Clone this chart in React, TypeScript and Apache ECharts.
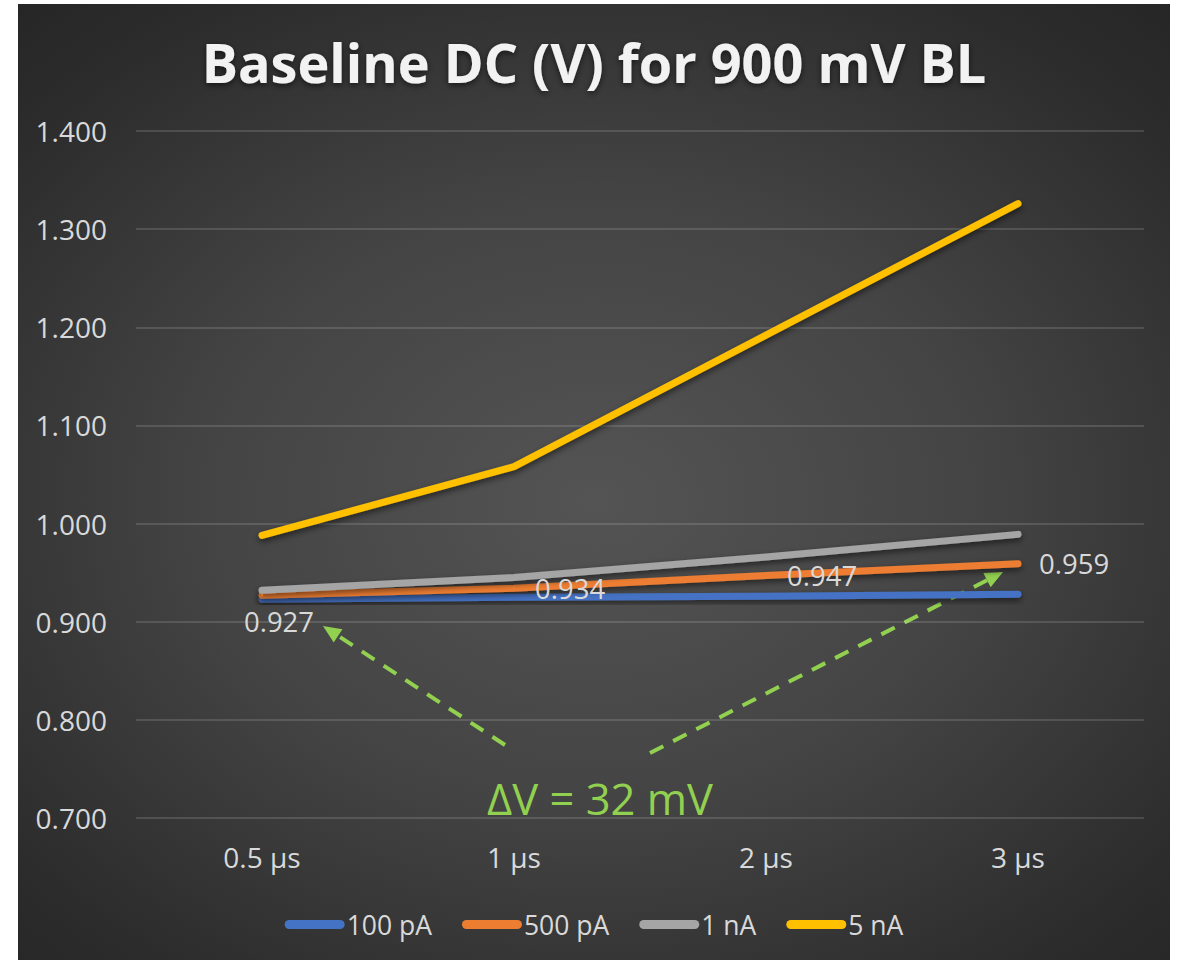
import React, { useEffect, useRef } from "react";
import * as echarts from "echarts";

// Pulse widths along the x axis
const categories = ["0.5 µs", "1 µs", "2 µs", "3 µs"];

// Baseline DC (V) per leakage current
const seriesNames = ["100 pA", "500 pA", "1 nA", "5 nA"];
const values100pA = [0.923, 0.925, 0.926, 0.928];
const values500pA = [0.927, 0.934, 0.947, 0.959];
const values1nA = [0.932, 0.945, 0.966, 0.989];
const values5nA = [0.988, 1.058, 1.192, 1.326];

const seriesColors = ["#4472c4", "#ed7d31", "#a5a5a5", "#ffc000"];

const annotationText = "ΔV = 32 mV";
const green = "#92d050";
const fontFamily = "'Open Sans', 'Noto Sans', sans-serif";

// Dashed arrow from (x1, y1) pointing at (x2, y2)
function dashedArrow(x1: number, y1: number, x2: number, y2: number) {
  const dx = x2 - x1;
  const dy = y2 - y1;
  const len = Math.sqrt(dx * dx + dy * dy);
  const ux = dx / len;
  const uy = dy / len;
  const headLen = 18;
  const headHalf = 8;
  const bx = x2 - ux * headLen;
  const by = y2 - uy * headLen;
  return [
    {
      type: "line",
      shape: { x1, y1, x2: bx, y2: by },
      style: { stroke: green, lineWidth: 4, lineDash: [15, 11] },
      silent: true,
    },
    {
      type: "polygon",
      shape: {
        points: [
          [x2, y2],
          [bx - uy * headHalf, by + ux * headHalf],
          [bx + uy * headHalf, by - ux * headHalf],
        ],
      },
      style: { fill: green },
      silent: true,
    },
  ];
}

function lineSeries(name: string, data: any[], color: string, extra: any = {}) {
  return {
    name,
    type: "line",
    data,
    symbol: "none",
    smooth: false,
    itemStyle: { color },
    lineStyle: {
      color,
      width: 7,
      cap: "round",
      join: "round",
      shadowColor: "rgba(0,0,0,0.55)",
      shadowBlur: 6,
      shadowOffsetY: 3,
    },
    ...extra,
  };
}

export default function App() {
  const ref = useRef<HTMLDivElement>(null);

  useEffect(() => {
    if (!ref.current) return;
    const chart = echarts.init(ref.current, undefined, { renderer: "svg" });

    const labelStyle = {
      show: true,
      position: "right",
      distance: 20,
      color: "#d9d9d9",
      fontSize: 27.5,
      fontFamily,
      formatter: (p: any) => Number(p.value).toFixed(3),
    };

    const data500 = values500pA.map((v, i) =>
      i === 0
        ? { value: v, label: { position: "bottom", distance: 11, offset: [17, 0] } }
        : v
    );

    chart.setOption({
      animation: false,
      backgroundColor: "transparent",
      title: {
        text: "Baseline DC (V) for 900 mV BL",
        left: "center",
        top: 26,
        textStyle: {
          color: "#f2f2f2",
          fontSize: 54,
          fontWeight: "bold",
          fontFamily,
          textShadowColor: "rgba(0,0,0,0.6)",
          textShadowBlur: 6,
          textShadowOffsetY: 2,
        },
      },
      grid: { left: 118, right: 26, top: 127, bottom: 142 },
      xAxis: {
        type: "category",
        data: categories,
        boundaryGap: true,
        axisLine: { show: false },
        axisTick: { show: false },
        axisLabel: { color: "#d9d9d9", fontSize: 28, fontFamily, margin: 25 },
      },
      yAxis: {
        type: "value",
        min: 0.7,
        max: 1.4,
        interval: 0.1,
        axisLine: { show: false },
        axisTick: { show: false },
        axisLabel: {
          color: "#d9d9d9",
          fontSize: 28,
          fontFamily,
          margin: 29,
          formatter: (v: number) => v.toFixed(3),
        },
        splitLine: { lineStyle: { color: "rgba(217,217,217,0.22)", width: 1.5 } },
      },
      legend: {
        data: seriesNames,
        left: "center",
        top: 902,
        itemWidth: 60,
        itemHeight: 9,
        itemGap: 30,
        icon: "path://M4.5,0 H55.5 A4.5,4.5 0 0 1 55.5,9 H4.5 A4.5,4.5 0 0 1 4.5,0 Z",
        textStyle: { color: "#d9d9d9", fontSize: 26.5, fontFamily, padding: [0, 0, 0, -3] },
      },
      series: [
        lineSeries(seriesNames[0], values100pA, seriesColors[0]),
        lineSeries(seriesNames[1], data500, seriesColors[1], {
          symbol: "circle",
          symbolSize: 2,
          showSymbol: true,
          label: labelStyle,
        }),
        lineSeries(seriesNames[2], values1nA, seriesColors[2]),
        lineSeries(seriesNames[3], values5nA, seriesColors[3]),
      ],
      graphic: [
        ...dashedArrow(487, 741, 305, 622),
        ...dashedArrow(632, 749, 985, 568),
        {
          type: "text",
          x: 582,
          y: 794,
          style: {
            text: annotationText,
            fill: green,
            fontSize: 43.5,
            fontFamily,
            align: "center",
            verticalAlign: "middle",
          },
          silent: true,
        },
      ],
    });

    return () => chart.dispose();
  }, []);

  return (
    <div
      style={{
        position: "absolute",
        left: 18,
        top: 4,
        width: 1152,
        height: 956,
        background:
          "radial-gradient(ellipse 75% 70% at 50% 52%, #545454 0%, #444444 45%, #2c2c2c 85%, #262626 100%)",
      }}
    >
      <div ref={ref} style={{ width: 1152, height: 956 }} />
    </div>
  );
}
